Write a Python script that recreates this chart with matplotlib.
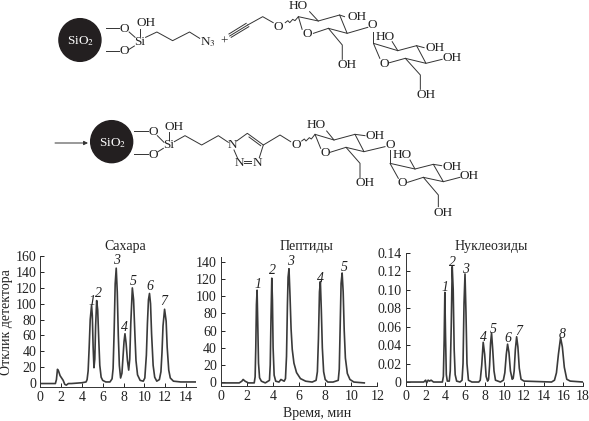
import matplotlib
matplotlib.use('Agg')
import matplotlib.pyplot as plt
from matplotlib.patches import Ellipse

plt.rcParams['font.family'] = ['Liberation Serif']
plt.rcParams['mathtext.fontset'] = 'stix'

# Chromatograms
sugar_t = [0, 1.45, 1.55, 1.65, 1.75, 1.9, 2.05, 2.2, 2.35, 2.5, 2.7, 3.0, 4.0,
           4.4, 4.5, 4.6, 4.7, 4.8, 4.93, 5.0, 5.08, 5.16, 5.24, 5.32, 5.42, 5.52, 5.62, 5.72, 5.85, 6.0, 6.3, 6.7,
           6.9, 7.0, 7.1, 7.2, 7.3, 7.4, 7.5, 7.6, 7.72, 7.85, 7.95, 8.05, 8.14, 8.25, 8.38, 8.5,
           8.6, 8.7, 8.85, 8.97, 9.1, 9.2, 9.35, 9.6, 9.9,
           10.05, 10.2, 10.3, 10.4, 10.5, 10.6, 10.7, 10.85, 11.0, 11.2, 11.45,
           11.6, 11.7, 11.8, 11.95, 12.1, 12.2, 12.35, 12.5, 12.8, 13.5, 15]
sugar_v = [-1, -1, 4, 17, 15, 9, 6, 3, -2, -3, -1, -1, 0,
           1, 4, 15, 45, 80, 98, 85, 45, 19, 30, 72, 104, 92, 55, 22, 7, 3, 1, 1,
           5, 18, 65, 125, 145, 115, 60, 22, 6, 12, 32, 52, 62, 50, 28, 16,
           30, 75, 120, 105, 60, 28, 10, 3, 2,
           6, 35, 75, 105, 113, 100, 62, 22, 7, 2, 4,
           14, 38, 72, 93, 78, 45, 16, 6, 2, 1, 1]

peptide_t = [0, 1.4, 1.6, 1.7, 1.85, 2.1, 2.55,
             2.62, 2.67, 2.72, 2.77, 2.82, 2.88, 2.96, 3.1, 3.4,
             3.72, 3.78, 3.84, 3.9, 3.95, 4.0, 4.08, 4.2, 4.45, 4.6, 4.72, 4.85,
             4.95, 5.03, 5.1, 5.15, 5.22, 5.3, 5.38, 5.47, 5.6, 5.8, 6.1, 6.5, 7.0,
             7.3, 7.4, 7.48, 7.56, 7.63, 7.7, 7.78, 7.88, 8.0, 8.2, 8.6,
             9.0, 9.08, 9.15, 9.22, 9.3, 9.38, 9.46, 9.55, 9.7, 9.9, 10.2, 11]
peptide_v = [-1, -1, 1, 3, 1, -1, -1,
             6, 40, 90, 107, 70, 22, 5, 1, -1,
             2, 20, 75, 121, 95, 40, 8, 1, 0, 3, 2, 1,
             4, 30, 90, 122, 132, 100, 62, 38, 22, 11, 4, 1, 0,
             2, 12, 50, 105, 117, 85, 40, 12, 3, 0, 0,
             2, 15, 65, 115, 127, 105, 60, 28, 10, 3, 0, -1]

nucleoside_t = [0, 1.8, 2.0, 2.1, 2.25, 2.4, 2.55, 2.8,
                3.7, 3.8, 3.88, 3.95, 4.02, 4.1, 4.2,
                4.4, 4.5, 4.6, 4.7, 4.8, 4.9, 5.0, 5.15, 5.5,
                5.7, 5.8, 5.9, 6.0, 6.1, 6.2, 6.35, 6.7,
                7.4, 7.55, 7.7, 7.85, 8.0, 8.15, 8.3,
                8.4, 8.5, 8.6, 8.7, 8.82, 8.95, 9.1, 9.6,
                9.9, 10.05, 10.2, 10.33, 10.47, 10.62, 10.8, 10.9,
                11.0, 11.12, 11.25, 11.38, 11.52, 11.7, 12.0, 14.8,
                15.1, 15.3, 15.5, 15.72, 15.9, 16.1, 16.35, 16.7, 18]
nucleoside_v = [0, 0, 0.002, -0.001, 0.002, 0.001, 0.002, 0,
                0, 0.006, 0.045, 0.097, 0.05, 0.008, 0.001,
                0.001, 0.012, 0.06, 0.125, 0.1, 0.035, 0.008, 0.001, 0,
                0.002, 0.02, 0.085, 0.117, 0.075, 0.02, 0.002, 0,
                0, 0.002, 0.018, 0.043, 0.03, 0.006, 0.001,
                0.003, 0.018, 0.042, 0.053, 0.035, 0.012, 0.002, 0,
                0.002, 0.01, 0.03, 0.041, 0.032, 0.012, 0.003, 0.004,
                0.012, 0.035, 0.049, 0.038, 0.015, 0.003, 0.001, 0,
                0.002, 0.01, 0.03, 0.048, 0.038, 0.016, 0.003, 0.001, 0]

# Peak numbers and where they sit
sugar_peak_t = [4.95, 5.55, 7.37, 8.14, 8.94, 10.5, 11.9]
sugar_peak_v = [103, 113, 155, 70, 128, 122, 103]
peptide_peak_t = [2.86, 3.96, 5.3, 7.67, 9.44]
peptide_peak_v = [114, 130, 140, 121, 133]
nucleoside_peak_t = [4.0, 4.75, 6.1, 7.83, 8.88, 10.34, 11.42, 15.9]
nucleoside_peak_v = [0.1025, 0.1296, 0.122, 0.048, 0.0574, 0.0473, 0.0545, 0.0516]

W, H = 589, 421
fig = plt.figure(figsize=(W / 100, H / 100), dpi=100)


def panel(left, right, top, bottom):
    return fig.add_axes([left / W, 1 - bottom / H, (right - left) / W, (bottom - top) / H])


def style(ax, xlim, ylim, xticks, yticks, ylabels, t, v, pt, pv, title, title_x):
    ax.plot(t, v, color='#3a3a3a', lw=1.2, solid_joinstyle='round')
    ax.set_xlim(*xlim)
    ax.set_ylim(*ylim)
    ax.set_xticks(xticks)
    ax.set_yticks(yticks)
    ax.set_yticklabels(ylabels)
    ax.spines['top'].set_visible(False)
    ax.spines['right'].set_visible(False)
    for s in ['left', 'bottom']:
        ax.spines[s].set_linewidth(0.7)
        ax.spines[s].set_color('#333333')
    ax.tick_params(direction='in', length=3, width=0.7, labelsize=10, pad=3, colors='#222222')
    ax.patch.set_alpha(0)
    for i, (a, b) in enumerate(zip(pt, pv)):
        ax.text(a, b, str(i + 1), style='italic', fontsize=10, ha='center', va='center', color='#222222')
    fig.text(title_x / W, 1 - 247 / H, title, fontsize=10, ha='center', va='center', color='#222222')


ax1 = panel(40.3, 196.3, 256.3, 386.7)
style(ax1, (0, 15), (-5, 160), list(range(0, 15, 2)), list(range(0, 161, 20)),
      [str(n) for n in range(0, 161, 20)], sugar_t, sugar_v, sugar_peak_t, sugar_peak_v, 'Сахара', 125)

ax2 = panel(221, 377.3, 256.7, 386)
style(ax2, (0, 12), (-4.6, 146), list(range(0, 13, 2)), list(range(0, 141, 20)),
      [str(n) for n in range(0, 141, 20)], peptide_t, peptide_v, peptide_peak_t, peptide_peak_v, 'Пептиды', 306)

ax3 = panel(406, 583, 252.7, 386)
nuc_ticks = [0, 0.02, 0.04, 0.06, 0.08, 0.10, 0.12, 0.14]
nuc_labels = ['0', '0.02', '0.04', '0.06', '0.08', '0.10', '0.12', '0.14']
style(ax3, (0, 18), (-0.0043, 0.14), list(range(0, 19, 2)), nuc_ticks, nuc_labels,
      nucleoside_t, nucleoside_v, nucleoside_peak_t, nucleoside_peak_v, 'Нуклеозиды', 491)

fig.text(7 / W, 1 - 322 / H, 'Отклик детектора', rotation=90, fontsize=10, ha='center', va='center', color='#222222')
fig.text(317 / W, 1 - 413 / H, 'Время, мин', fontsize=10, ha='center', va='center', color='#222222')

# Overlay for the reaction scheme, in image pixels
sch = fig.add_axes([0, 0, 1, 1])
sch.set_xlim(0, W)
sch.set_ylim(H, 0)
sch.axis('off')
sch.patch.set_alpha(0)


def draw_scheme(bonds, labels, circle, dx, dy, sx):
    def px(x, y):
        return x * sx + dx, y / 3 + dy
    for path in bonds:
        pts = [px(*p) for p in path]
        sch.plot([p[0] for p in pts], [p[1] for p in pts], color='#333333', lw=0.7)
    for x, y, s in labels:
        a, b = px(x, y)
        sch.text(a, b, s, fontsize=9.5, ha='center', va='center', color='#222222')
    cx, cy = px(circle[0], circle[1])
    sch.add_patch(Ellipse((cx, cy), circle[2] * 2 * sx, circle[3] * 2 / 3, color='#231f20'))
    sch.text(cx + 0.5, cy + 1, 'SiO$_2$', fontsize=9.5, ha='center', va='center', color='white')


top_bonds = [
    [(282, 84), (316, 84)], [(283, 152), (316, 152)], [(344, 96), (360, 112)], [(344, 148), (358, 138)],
    [(373, 88), (373, 108)], [(388, 112), (418, 96), (460, 122), (505, 96), (532, 115)],
    [(612, 108), (660, 75)], [(610, 102), (656, 70)], [(616, 112), (663, 80)],
    [(660, 75), (700, 50), (728, 68)],
    [(760, 68), (767, 62), (772, 68), (780, 58), (786, 62), (795, 50)],
    [(805, 88), (795, 50), (848, 63), (905, 45), (925, 100), (875, 85), (835, 100)],
    [(825, 35), (848, 63)], [(905, 45), (918, 50)], [(925, 100), (980, 82)],
    [(875, 85), (912, 135), (912, 178)], [(995, 95), (995, 130)],
    [(1012, 175), (995, 130), (1060, 152), (1110, 137), (1135, 190), (1080, 175), (1038, 188)],
    [(1045, 125), (1060, 152)], [(1110, 137), (1130, 143)], [(1135, 190), (1178, 178)],
    [(1080, 175), (1120, 225), (1120, 268)],
]
top_labels = [
    (330, 86, 'O'), (330, 153, 'O'), (390, 68, 'OH'), (373, 125, 'Si'), (555, 127, 'N$_3$'), (596, 124, '+'),
    (742, 80, 'O'), (820, 103, 'O'), (795, 18, 'HO'), (952, 50, 'OH'), (993, 75, 'O'), (926, 195, 'OH'),
    (1024, 192, 'O'), (1025, 112, 'HO'), (1158, 145, 'OH'), (1205, 173, 'OH'), (1135, 285, 'OH'),
]
bottom_bonds = [
    [(282, 48), (325, 48)], [(282, 118), (325, 118)], [(352, 62), (372, 82)], [(354, 110), (370, 100)],
    [(387, 52), (387, 75)], [(403, 80), (435, 62), (485, 90), (535, 62), (565, 82)],
    [(590, 78), (622, 55), (670, 90), (658, 128)], [(627, 66), (662, 92)],
    [(612, 137), (634, 137)], [(612, 145), (634, 145)], [(582, 105), (592, 128)],
    [(670, 90), (720, 60), (752, 80)],
    [(785, 78), (793, 72), (798, 78), (808, 68), (814, 72), (825, 58)],
    [(842, 100), (825, 58), (882, 75), (945, 58), (972, 110), (918, 97), (870, 112)],
    [(860, 48), (882, 75)], [(945, 58), (975, 62)], [(972, 110), (1035, 95)],
    [(918, 97), (960, 145), (960, 188)], [(1050, 105), (1050, 145)],
    [(1075, 190), (1050, 145), (1125, 162), (1180, 148), (1210, 200), (1150, 187), (1103, 202)],
    [(1110, 135), (1125, 162)], [(1180, 148), (1205, 152)], [(1210, 200), (1260, 187)],
    [(1150, 187), (1195, 240), (1195, 275)],
]
bottom_labels = [
    (340, 50, 'O'), (340, 120, 'O'), (403, 35, 'OH'), (387, 90, 'Si'), (578, 90, 'N'), (597, 143, 'N'),
    (652, 143, 'N'), (768, 90, 'O'), (855, 115, 'O'), (830, 30, 'HO'), (1005, 62, 'OH'), (1050, 90, 'O'),
    (975, 205, 'OH'), (1088, 205, 'O'), (1087, 120, 'HO'), (1237, 155, 'OH'), (1288, 183, 'OH'), (1210, 293, 'OH'),
]
draw_scheme(top_bonds, top_labels, (213, 120, 56, 64), 0, 0, 0.3753)
draw_scheme(bottom_bonds, bottom_labels, (215, 80, 63, 63), 40, 115, 1 / 3)
sch.annotate('', xy=(88, 143), xytext=(55, 143),
             arrowprops=dict(arrowstyle='-|>', color='#333333', lw=0.7, mutation_scale=6, shrinkA=0, shrinkB=0))

fig.savefig('out.png', dpi=100)
